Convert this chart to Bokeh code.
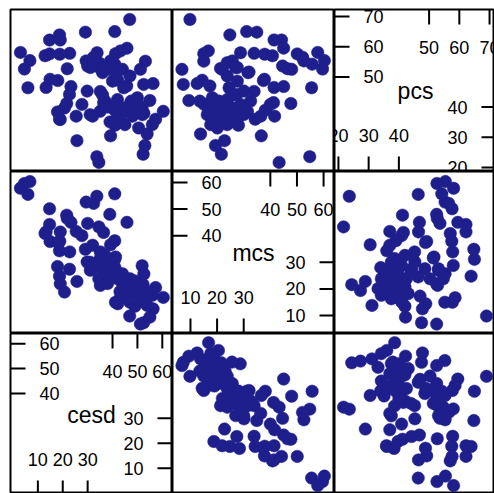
import math
from bokeh.plotting import figure
from bokeh.layouts import gridplot
from bokeh.models import Range1d
from bokeh.embed import file_html
from bokeh.resources import INLINE
from bokeh.core.properties import value

# ---- data (cesd, mcs, pcs) per subject ----
cesd = [46.9, 18.7, 40.9, 29.1, 19.0, 14.7, 45.8, 41.2, 43.2, 53.2, 33.8, 39.2, 22.8, 18.8, 12.9,
        14.7, 29.4, 3.0, 6.8, 4.6, 40.9, 6.0, 33.7, 30.0, 38.9, 51.2, 52.5, 35.1, 34.5, 31.1,
        41.2, 14.9, 56.3, 42.1, 45.7, 13.3, 23.3, 18.0, 36.0, 44.0, 36.5, 47.0, 40.0, 44.5,
        55.0, 49.0, 50.0, 47.5, 42.0, 22.7, 29.8, 35.1, 37.0, 38.0, 44.0, 46.0, 20.7, 52.0,
        48.0, 19.0, 42.0, 17.9, 35.0, 45.0, 50.5, 39.0, 56.0, 32.0, 25.4, 27.7, 21.6, 53.9,
        39.2, 53.0, 25.7, 52.3, 34.5, 32.4, 36.4, 18.7, 40.9, 51.9, 52.6, 57.3, 60.4, 21.8,
        38.0, 43.0, 36.0, 47.0, 31.0, 41.0, 49.0]
mcs = [9.8, 24.8, 31.1, 34.9, 41.4, 44.2, 45.0, 15.0, 16.7, 15.0, 28.8, 25.7, 33.9, 37.9, 40.8,
       50.1, 52.6, 57.8, 60.3, 59.6, 55.7, 55.5, 54.8, 44.6, 48.0, 6.8, 7.3, 21.3, 23.8, 27.0,
       32.0, 37.8, 12.5, 14.4, 17.3, 41.4, 45.0, 37.4, 31.6, 21.9, 27.6, 23.8, 27.6, 24.5,
       9.4, 13.5, 18.2, 20.7, 23.8, 27.4, 30.1, 33.9, 32.6, 28.8, 25.7, 22.6, 18.8, 16.3,
       18.8, 21.9, 25.1, 28.4, 31.4, 23.8, 20.1, 27.0, 17.6, 36.4, 41.6, 40.0, 47.7, 13.8,
       36.6, 19.4, 22.8, 21.6, 43.3, 52.1, 41.2, 34.3, 38.1, 28.7, 25.6, 20.5, 16.8, 46.5,
       22.0, 19.0, 26.0, 15.0, 30.0, 28.0, 23.0]
pcs = [69.0, 63.9, 65.0, 64.8, 62.2, 62.2, 59.5, 57.7, 58.6, 55.2, 58.0, 55.3, 57.8, 57.5, 57.0,
       57.6, 55.3, 58.1, 55.4, 52.6, 54.2, 46.4, 23.6, 53.6, 52.5, 52.5, 47.5, 52.8, 54.7, 53.1,
       51.6, 49.2, 47.8, 48.9, 47.0, 46.5, 46.8, 48.8, 51.4, 52.5, 53.1, 50.3, 48.6, 46.4,
       42.2, 42.0, 43.1, 42.0, 42.5, 44.2, 45.3, 45.2, 42.0, 40.9, 39.7, 38.6, 39.7, 37.5,
       37.0, 35.9, 36.4, 38.4, 38.6, 34.2, 33.1, 35.1, 34.2, 37.0, 37.0, 40.9, 41.2, 31.1,
       30.5, 27.3, 28.9, 24.4, 21.7, 56.5, 41.5, 36.0, 39.0, 40.0, 38.0, 36.0, 38.6, 52.7,
       40.0, 36.0, 44.0, 41.0, 37.5, 34.0, 39.0]

var_names = ["cesd", "mcs", "pcs"]
var_data = {"cesd": cesd, "mcs": mcs, "pcs": pcs}
var_limits = {"cesd": (-1.0, 64.1), "mcs": (3.25, 64.1), "pcs": (18.7, 72.3)}
ticks_low = {"cesd": [10, 20, 30], "mcs": [10, 20, 30], "pcs": [20, 30, 40]}
ticks_high = {"cesd": [40, 50, 60], "mcs": [40, 50, 60], "pcs": [50, 60, 70]}

# ---- styling ----
PANEL = 162
COL_VIS = [162, 162, 160]
ROW_VIS = [162, 162, 160]
LEFT_PAD = 10
TOP_PAD = 9
DOT = "#1E1E8C"
FONT = value("Liberation Sans")
TICK_FS = "18px"
NAME_FS = "23px"
TLEN = 15


def make_panel(r, c):
    xv = var_names[c]
    yv = var_names[2 - r]
    xlo, xhi = var_limits[xv]
    ylo, yhi = var_limits[yv]
    xr = Range1d(xlo, xlo + (xhi - xlo) * COL_VIS[c] / PANEL)
    yr = Range1d(yhi - (yhi - ylo) * ROW_VIS[r] / PANEL, yhi)
    bl = LEFT_PAD if c == 0 else 0
    bt = TOP_PAD if r == 0 else 0
    p = figure(width=COL_VIS[c] + bl, height=ROW_VIS[r] + bt, x_range=xr, y_range=yr,
               x_axis_type=None, y_axis_type=None, output_backend="svg",
               toolbar_location=None, min_border_left=bl, min_border_right=0,
               min_border_top=bt, min_border_bottom=0)
    p.outline_line_color = "black"
    p.outline_line_width = 2
    p.outline_line_alpha = 1.0
    p.background_fill_color = "white"
    p.border_fill_color = "white"
    if xv != yv:
        p.scatter(x=var_data[xv], y=var_data[yv], size=12.5, fill_color=DOT,
                  line_color=DOT, line_width=0.5)
    else:
        lo, hi = var_limits[xv]
        tl, th = ticks_low[xv], ticks_high[xv]
        kw = dict(line_color="black", line_width=2, length=TLEN, length_units="screen")
        p.ray(x=[lo] * len(th), y=th, angle=0, **kw)
        p.ray(x=th, y=[hi] * len(th), angle=-math.pi / 2, **kw)
        p.ray(x=[hi] * len(tl), y=tl, angle=math.pi, **kw)
        p.ray(x=tl, y=[lo] * len(tl), angle=math.pi / 2, **kw)
        tkw = dict(text_font=FONT, text_font_size=TICK_FS, text_color="black",
                   text_baseline="middle")
        p.text(x=[lo] * len(th), y=th, text=[str(t) for t in th], text_align="left",
               x_offset=29, **tkw)
        p.text(x=th, y=[hi] * len(th), text=[str(t) for t in th], text_align="center",
               y_offset=38, **tkw)
        p.text(x=[hi] * len(tl), y=tl, text=[str(t) for t in tl], text_align="right",
               x_offset=-29, **tkw)
        p.text(x=tl, y=[lo] * len(tl), text=[str(t) for t in tl], text_align="center",
               y_offset=-36, **tkw)
        p.text(x=[(lo + hi) / 2], y=[(lo + hi) / 2], text=[xv], text_font=FONT,
               text_font_size=NAME_FS, text_color="black", text_align="center",
               text_baseline="middle")
    return p


grid = [[make_panel(r, c) for c in range(3)] for r in range(3)]
layout = gridplot(grid, toolbar_location=None)

with open("out.html", "w") as f:
    f.write(file_html(layout, INLINE))
